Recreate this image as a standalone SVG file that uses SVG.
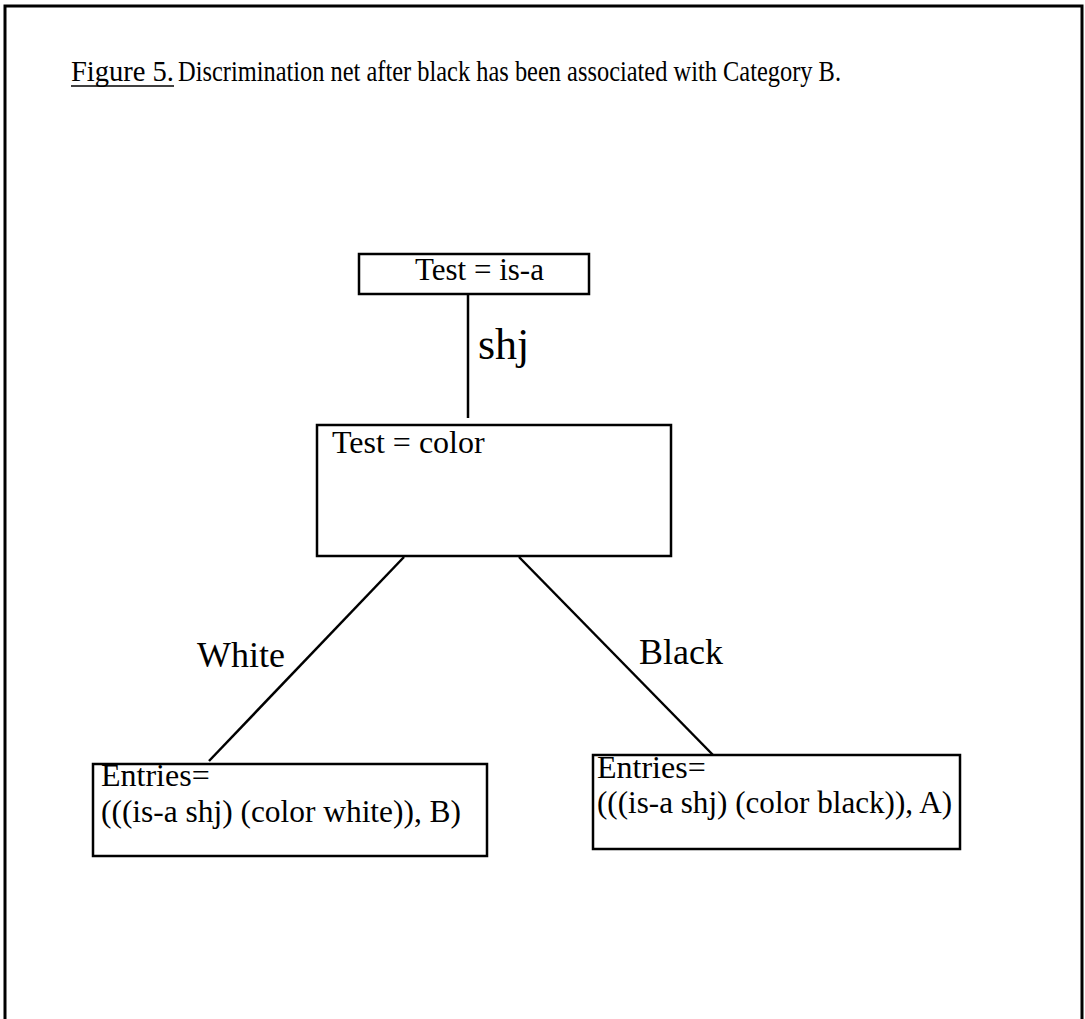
<svg xmlns="http://www.w3.org/2000/svg" width="1085" height="1019" viewBox="0 0 1085 1019">
  <style>
    .frame { fill: none; stroke: #000; stroke-width: 3; }
    .box { fill: #fff; stroke: #000; stroke-width: 2.5; }
    .edge { fill: none; stroke: #000; stroke-width: 2.5; }
    text { font-family: "Liberation Serif", "Times New Roman", serif; fill: #000; }
    .title { font-size: 30px; }
    .lbl { font-size: 32px; }
    .edge-lbl { font-size: 36px; }
  </style>
  <rect width="1085" height="1019" fill="#fff"/>

  <!-- page frame -->
  <path class="frame" d="M5,1019 V6 H1082 V1019"/>

  <!-- caption -->
  <g id="caption">
    <text class="title" x="71" y="81" textLength="103" lengthAdjust="spacingAndGlyphs">Figure 5.</text>
    <line x1="71" y1="86" x2="174" y2="86" stroke="#000" stroke-width="1.5"/>
    <text class="title" x="178" y="81" textLength="663" lengthAdjust="spacingAndGlyphs">Discrimination net after black has been associated with Category B.</text>
  </g>

  <!-- connectors -->
  <g id="connectors">
    <line class="edge" x1="468" y1="294" x2="468" y2="418"/>
    <line class="edge" x1="404" y1="557" x2="209" y2="761"/>
    <line class="edge" x1="519" y1="557" x2="713" y2="755"/>
    <text class="edge-lbl" x="478" y="359" style="font-size:44px">shj</text>
    <text class="edge-lbl" x="197" y="667">White</text>
    <text class="edge-lbl" x="639" y="664">Black</text>
  </g>

  <!-- nodes -->
  <g id="node-isa">
    <rect class="box" x="359" y="254" width="230" height="40"/>
    <text class="lbl" x="415" y="280" style="font-size:31px">Test = is-a</text>
  </g>

  <g id="node-color">
    <rect class="box" x="317" y="425" width="354" height="131"/>
    <text class="lbl" x="332" y="453">Test = color</text>
  </g>

  <g id="node-white">
    <rect class="box" x="93" y="764" width="394" height="92"/>
    <text class="lbl" x="101" y="786">Entries=</text>
    <text class="lbl" x="101" y="822" textLength="360" lengthAdjust="spacingAndGlyphs">(((is-a shj) (color white)), B)</text>
  </g>

  <g id="node-black">
    <rect class="box" x="593" y="755" width="367" height="94"/>
    <text class="lbl" x="597" y="778">Entries=</text>
    <text class="lbl" x="597" y="813" textLength="355" lengthAdjust="spacingAndGlyphs">(((is-a shj) (color black)), A)</text>
  </g>
</svg>
